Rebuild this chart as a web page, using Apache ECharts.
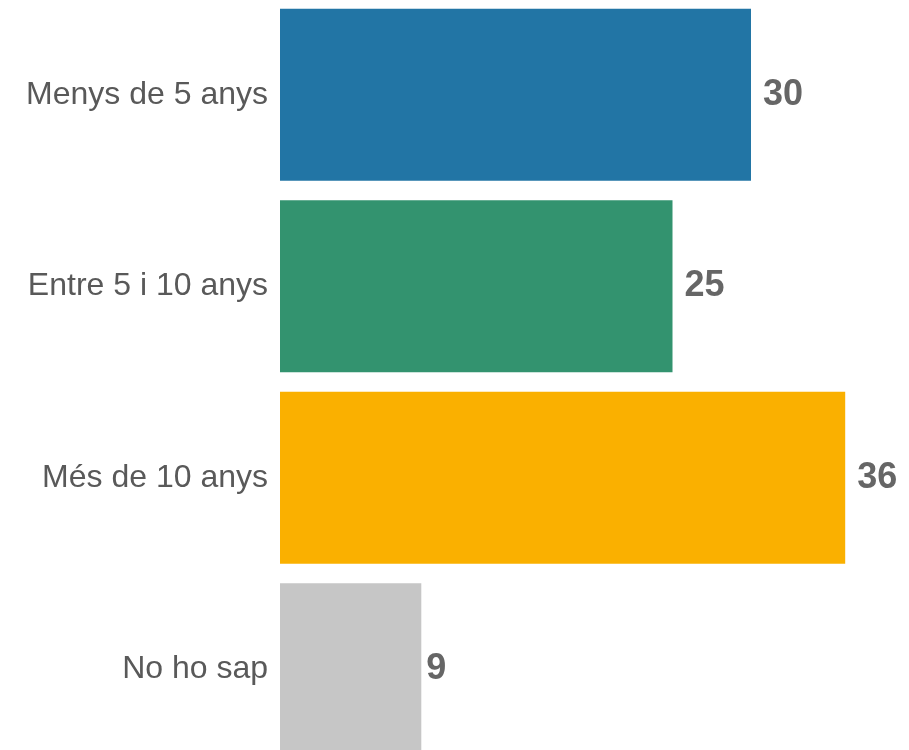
<!DOCTYPE html>
<html>
<head>
<meta charset="utf-8">
<script src="https://cdn.jsdelivr.net/npm/echarts@6/dist/echarts.min.js"></script>
<style>
  html, body { margin: 0; padding: 0; background: #ffffff; }
  #chart { width: 909px; height: 750px; }
</style>
</head>
<body>
<div id="chart"></div>
<script>
// Antiguitat: categories, percentages and bar colours
var categories = ['Menys de 5 anys', 'Entre 5 i 10 anys', 'Més de 10 anys', 'No ho sap'];
var values = [30, 25, 36, 9];
var colors = ['#2275A5', '#33936F', '#FAB000', '#C6C6C6'];
// gap between bar end and its value label
var labelGaps = [12, 12, 12, 5];

var chart = echarts.init(document.getElementById('chart'), null, { renderer: 'canvas' });

chart.setOption({
  animation: false,
  backgroundColor: '#ffffff',
  grid: {
    left: 280, top: -1, height: 766, width: 628,
    containLabel: false,
    outerBoundsMode: 'none'
  },
  xAxis: {
    type: 'value',
    min: 0,
    max: 40,
    show: false
  },
  yAxis: {
    type: 'category',
    data: categories,
    inverse: true,
    axisLine: { show: false },
    axisTick: { show: false },
    splitLine: { show: false },
    axisLabel: {
      margin: 12,
      color: '#595959',
      fontFamily: 'Liberation Sans, Arial, sans-serif',
      fontSize: 32,
      padding: [6, 0, 0, 0]
    }
  },
  series: [{
    type: 'bar',
    barCategoryGap: '10.2%',
    data: values.map(function (v, i) {
      return {
        value: v,
        itemStyle: { color: colors[i] },
        label: { distance: labelGaps[i] }
      };
    }),
    label: {
      show: true,
      position: 'right',
      color: '#666666',
      fontFamily: 'Liberation Sans, Arial, sans-serif',
      fontWeight: 'bold',
      fontSize: 36,
      padding: [6, 0, 0, 0]
    }
  }]
});
</script>
</body>
</html>
